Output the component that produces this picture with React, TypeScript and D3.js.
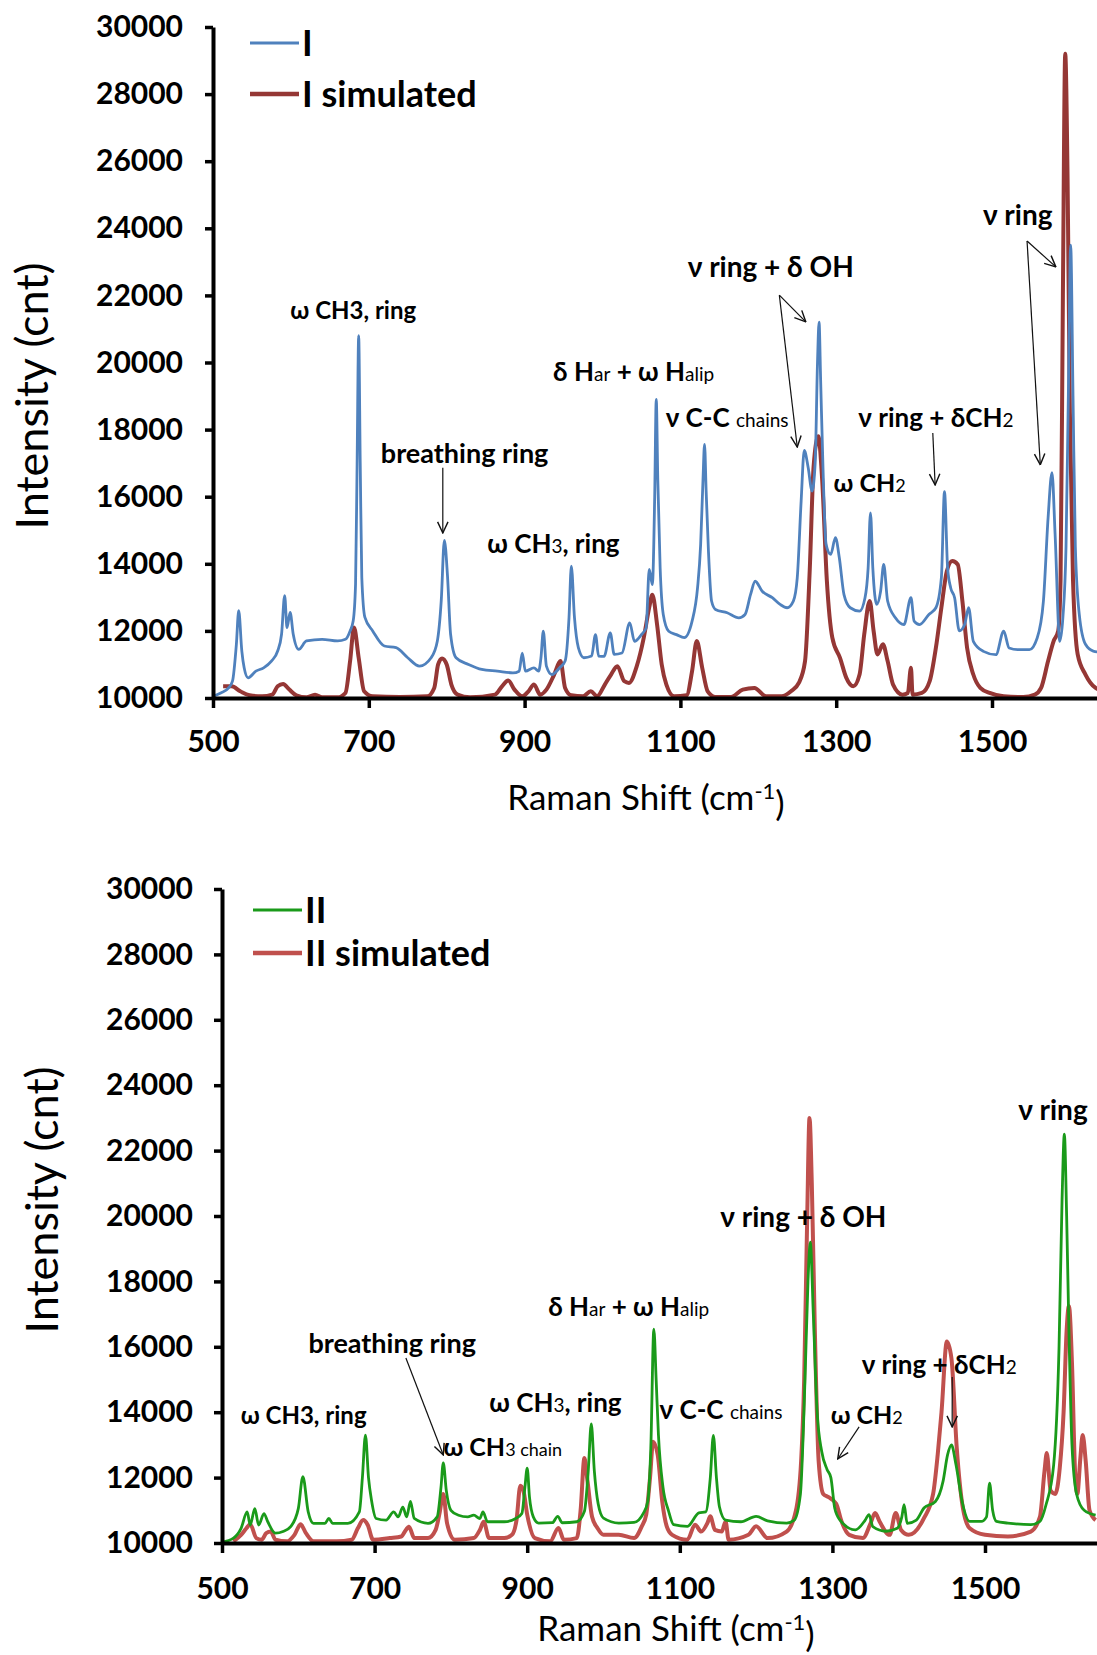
import React, { useEffect, useRef } from 'react';
import * as d3 from 'd3';

type Pt = [number, number];
type Part = [string, boolean];
interface Note {
  parts: Part[];
  at: Pt;
  size: number;
}

const xTicks = [500, 700, 900, 1100, 1300, 1500];
const yTicks = [10000, 12000, 14000, 16000, 18000, 20000, 22000, 24000, 26000, 28000, 30000];

// measured spectrum I [shift cm-1, counts]
const spectrumI: Pt[] = [
  [500, 10050], [510, 10150], [520, 10300], [525, 10500], [530, 11600], [533, 12600], [537, 11400],
  [540, 10900], [545, 10600], [555, 10800], [565, 10900], [575, 11100], [583, 11400], [588, 11900],
  [592, 13050], [595, 12100], [599, 12550], [603, 11900], [610, 11450], [620, 11700], [640, 11750],
  [660, 11700], [670, 11750], [676, 12000], [680, 12300], [683, 13400], [685, 17000], [687, 20800],
  [689, 17000], [691, 13600], [695, 12400], [705, 12000], [720, 11550], [735, 11500], [750, 11200],
  [765, 10950], [780, 11200], [788, 11700], [793, 12900], [797, 14700], [801, 13650], [805, 11900],
  [812, 11200], [828, 11000], [845, 10850], [865, 10800], [885, 10750], [893, 10800], [897, 11340],
  [901, 10800], [912, 10900], [918, 10800], [921, 11200], [924, 11990], [928, 10950], [935, 10700],
  [945, 10900], [952, 11100], [957, 12390], [960, 13930], [964, 12400], [969, 11500], [976, 11200],
  [986, 11250], [991, 11890], [995, 11250], [1002, 11240], [1010, 11940], [1015, 11300], [1025, 11340],
  [1035, 12240], [1041, 11690], [1050, 11890], [1056, 12090], [1060, 13830], [1064, 13380], [1067, 16000],
  [1069, 18900], [1071, 16500], [1074, 13880], [1078, 12490], [1085, 11990], [1095, 11890], [1105, 11800],
  [1115, 12290], [1122, 13280], [1126, 14580], [1129, 16500], [1131, 17560], [1133, 16200], [1136, 14380],
  [1140, 12890], [1145, 12640], [1160, 12540], [1175, 12390], [1183, 12490], [1190, 13080], [1196, 13480],
  [1205, 13180], [1218, 12990], [1228, 12790], [1237, 12690], [1245, 12890], [1250, 13580], [1255, 15870],
  [1259, 17380], [1264, 16870], [1269, 16170], [1273, 17000], [1276, 20000], [1278, 21200], [1280, 19500],
  [1283, 16900], [1287, 14580], [1293, 14280], [1299, 14780], [1304, 14180], [1310, 13080], [1318, 12690],
  [1330, 12590], [1337, 12990], [1341, 13880], [1344, 15520], [1347, 13880], [1352, 12790], [1357, 13180],
  [1361, 13980], [1366, 12890], [1376, 12390], [1387, 12190], [1396, 12990], [1400, 12290], [1407, 12190],
  [1419, 12490], [1428, 12690], [1435, 13580], [1439, 16150], [1443, 13880], [1447, 13280], [1452, 12990],
  [1458, 12000], [1465, 12200], [1470, 12690], [1476, 11690], [1489, 11390], [1505, 11290], [1515, 11990],
  [1522, 11490], [1533, 11440], [1548, 11440], [1558, 11790], [1566, 12890], [1572, 15370], [1577, 16720],
  [1581, 14880], [1587, 11690], [1591, 12400], [1595, 14500], [1598, 19000], [1601, 23500], [1604, 19000],
  [1607, 14500], [1612, 12500], [1620, 11600], [1630, 11400], [1645, 11350],
];

// simulated spectrum I
const simulatedI: Pt[] = [
  [513, 10350], [524, 10350], [535, 10200], [547, 10080], [563, 10050], [576, 10100], [583, 10350],
  [590, 10420], [598, 10250], [607, 10080], [620, 10020], [631, 10100], [640, 10020], [660, 10020],
  [670, 10150], [676, 11100], [681, 12100], [687, 11200], [694, 10200], [705, 10050], [740, 10030],
  [775, 10050], [784, 10300], [789, 11000], [794, 11180], [800, 11000], [806, 10400], [814, 10100],
  [830, 10020], [862, 10100], [871, 10350], [879, 10520], [887, 10250], [897, 10050], [905, 10200],
  [912, 10400], [920, 10100], [928, 10250], [938, 10700], [946, 11100], [952, 10300], [960, 10080],
  [975, 10050], [985, 10200], [993, 10050], [1003, 10400], [1011, 10700], [1019, 10950], [1028, 10500],
  [1034, 10450], [1044, 10950], [1053, 11800], [1060, 12700], [1064, 13080], [1070, 12200], [1076, 11000],
  [1082, 10400], [1092, 10050], [1108, 10080], [1115, 10800], [1121, 11700], [1128, 10900], [1135, 10200],
  [1145, 10030], [1165, 10030], [1180, 10250], [1195, 10300], [1210, 10050], [1230, 10050], [1242, 10200],
  [1252, 10450], [1260, 11100], [1266, 13800], [1271, 16900], [1277, 17800], [1282, 16500], [1288, 13500],
  [1295, 11800], [1305, 11190], [1313, 10600], [1322, 10350], [1330, 10700], [1336, 11900], [1343, 12890],
  [1348, 12000], [1353, 11300], [1360, 11600], [1366, 11100], [1373, 10400], [1385, 10100], [1392, 10150],
  [1396, 10900], [1398, 10100], [1410, 10150], [1420, 10500], [1428, 11500], [1435, 12690], [1442, 13780],
  [1449, 14080], [1456, 13980], [1462, 12890], [1468, 11500], [1476, 10700], [1485, 10300], [1497, 10150],
  [1515, 10050], [1540, 10030], [1555, 10100], [1563, 10300], [1572, 11100], [1579, 11690], [1585, 12000],
  [1588, 13500], [1591, 22000], [1594, 29200], [1597, 25500], [1600, 18500], [1604, 13500], [1610, 11300],
  [1620, 10700], [1633, 10300], [1645, 10200],
];

// measured spectrum II
const spectrumII: Pt[] = [
  [500, 10030], [515, 10150], [525, 10450], [533, 10950], [537, 10550], [543, 11050], [548, 10550],
  [555, 10900], [560, 10650], [570, 10300], [580, 10350], [590, 10500], [600, 11050], [606, 12030],
  [613, 10950], [620, 10600], [635, 10600], [640, 10750], [645, 10600], [665, 10600], [680, 10950],
  [684, 12000], [688, 13300], [692, 12000], [696, 11300], [702, 10750], [715, 10700], [725, 10950],
  [731, 10800], [737, 11100], [742, 10800], [747, 11270], [752, 10750], [770, 10600], [782, 10800],
  [787, 11700], [790, 12450], [794, 11600], [800, 11000], [810, 10850], [822, 10800], [830, 10850],
  [838, 10750], [842, 10950], [848, 10650], [870, 10650], [885, 10750], [893, 10900], [897, 11700],
  [900, 12290], [903, 11400], [908, 10800], [915, 10610], [933, 10620], [940, 10815], [946, 10620],
  [965, 10650], [975, 10970], [980, 12200], [984, 13640], [988, 12200], [993, 11200], [1000, 10760],
  [1020, 10610], [1040, 10630], [1052, 10900], [1058, 11270], [1062, 12900], [1066, 16540], [1069, 15000],
  [1072, 13310], [1078, 11700], [1085, 11000], [1092, 10560], [1110, 10510], [1125, 10920], [1134, 10950],
  [1140, 12000], [1144, 13290], [1148, 12000], [1152, 11100], [1160, 10700], [1180, 10650], [1200, 10815],
  [1215, 10680], [1240, 10610], [1250, 10700], [1258, 11480], [1264, 14940], [1268, 18000], [1271, 19200],
  [1275, 17000], [1280, 14000], [1286, 12800], [1293, 12250], [1298, 12000], [1303, 11070], [1310, 10700],
  [1330, 10400], [1343, 10700], [1348, 10870], [1353, 10500], [1370, 10360], [1385, 10450], [1391, 10800],
  [1394, 11170], [1398, 10600], [1410, 10700], [1420, 11070], [1435, 11270], [1445, 11885], [1451, 12700],
  [1456, 13000], [1462, 12390], [1470, 11270], [1480, 10660], [1495, 10660], [1502, 10800], [1506, 11830],
  [1510, 11000], [1515, 10660], [1530, 10610], [1560, 10560], [1572, 10660], [1580, 11170], [1590, 12390],
  [1597, 15960], [1601, 20500], [1604, 22500], [1607, 20000], [1610, 16500], [1614, 13000], [1620, 11500],
  [1630, 11000], [1645, 10850],
];

// simulated spectrum II
const simulatedII: Pt[] = [
  [515, 10050], [525, 10250], [532, 10450], [537, 10570], [545, 10150], [552, 10100], [558, 10300],
  [564, 10350], [570, 10100], [585, 10050], [595, 10250], [603, 10570], [610, 10300], [620, 10050],
  [650, 10050], [670, 10100], [678, 10450], [685, 10700], [691, 10550], [698, 10100], [720, 10150],
  [735, 10200], [741, 10400], [745, 10500], [752, 10150], [770, 10150], [780, 10400], [785, 10900],
  [790, 11500], [795, 10600], [805, 10100], [830, 10150], [838, 10400], [843, 10650], [850, 10150],
  [870, 10150], [880, 10250], [886, 10700], [891, 11750], [895, 11600], [900, 10870], [910, 10150],
  [930, 10050], [941, 10460], [948, 10100], [965, 10150], [970, 11000], [975, 12600], [979, 11900],
  [985, 10800], [992, 10460], [1000, 10250], [1020, 10250], [1040, 10150], [1050, 10500], [1056, 10870],
  [1061, 12000], [1065, 13100], [1071, 12700], [1077, 11270], [1083, 10500], [1090, 10250], [1110, 10100],
  [1120, 10560], [1128, 10350], [1136, 10600], [1140, 10815], [1146, 10400], [1155, 10350], [1160, 10660],
  [1164, 10100], [1190, 10250], [1200, 10510], [1215, 10150], [1240, 10350], [1252, 10970], [1259, 12500],
  [1263, 15000], [1267, 20000], [1270, 23000], [1273, 21000], [1277, 16500], [1282, 12500], [1288, 11500],
  [1295, 11400], [1305, 11200], [1312, 10660], [1322, 10250], [1340, 10150], [1350, 10600], [1356, 10920],
  [1362, 10650], [1375, 10250], [1383, 10920], [1390, 10400], [1400, 10250], [1420, 10760], [1432, 11500],
  [1438, 12700], [1443, 14000], [1450, 16160], [1456, 15650], [1463, 12900], [1471, 11070], [1480, 10450],
  [1500, 10250], [1530, 10200], [1560, 10350], [1572, 10800], [1578, 12200], [1581, 12750], [1586, 11600],
  [1592, 11500], [1598, 12300], [1603, 14000], [1607, 16500], [1610, 17250], [1614, 15500], [1618, 12200],
  [1621, 11500], [1625, 12600], [1628, 13300], [1632, 12500], [1637, 11000], [1645, 10700],
];

const notesI: Note[] = [
  { parts: [['ω CH3, ring', false]], at: [680, 21540], size: 24 },
  { parts: [['breathing ring', false]], at: [823, 17300], size: 27 },
  { parts: [['ω CH', false], ['3', true], [', ring', false]], at: [937, 14590], size: 26 },
  { parts: [['δ H', false], ['ar', true], [' + ω H', false], ['alip', true]], at: [1040, 19720], size: 26 },
  { parts: [['ν C-C ', false], ['chains', true]], at: [1160, 18350], size: 26 },
  { parts: [['ν ring + δ OH', false]], at: [1216, 22850], size: 28 },
  { parts: [['ν ring', false]], at: [1533, 24400], size: 28 },
  { parts: [['ω CH', false], ['2', true]], at: [1343, 16410], size: 25 },
  { parts: [['ν ring + δCH', false], ['2', true]], at: [1428, 18350], size: 26 },
];
const arrowsI: [Pt, Pt][] = [
  [[795, 16860], [795, 14920]],
  [[1227, 22010], [1261, 21210]],
  [[1227, 22010], [1250, 17480]],
  [[1545, 23620], [1582, 22850]],
  [[1545, 23620], [1562, 16950]],
  [[1424, 17900], [1427, 16350]],
];

const notesII: Note[] = [
  { parts: [['ω CH3, ring', false]], at: [607, 13910], size: 24 },
  { parts: [['breathing ring', false]], at: [723, 16120], size: 27 },
  { parts: [['ω CH', false], ['3 chain', true]], at: [868, 12940], size: 25 },
  { parts: [['ω CH', false], ['3', true], [', ring', false]], at: [937, 14280], size: 26 },
  { parts: [['δ H', false], ['ar', true], [' + ω H', false], ['alip', true]], at: [1033, 17220], size: 26 },
  { parts: [['ν C-C ', false], ['chains', true]], at: [1154, 14070], size: 26 },
  { parts: [['ν ring + δ OH', false]], at: [1262, 19970], size: 28 },
  { parts: [['ν ring', false]], at: [1589, 23240], size: 28 },
  { parts: [['ω CH', false], ['2', true]], at: [1345, 13910], size: 25 },
  { parts: [['ν ring + δCH', false], ['2', true]], at: [1440, 15440], size: 26 },
];
const arrowsII: [Pt, Pt][] = [
  [[741, 15660], [790, 12690]],
  [[1335, 13550], [1307, 12570]],
  [[1457, 15080], [1457, 13550]],
];

const FONT = "Lato, 'Noto Sans', 'DejaVu Sans', sans-serif";

interface Panel {
  exp: Pt[];
  sim: Pt[];
  expName: string;
  simName: string;
  expColor: string;
  simColor: string;
  notes: Note[];
  arrows: [Pt, Pt][];
  left: number;
  pxPer1000: number;
  top: number;
  bottom: number;
  legendX: number;
  legendY: [number, number];
  yTitle: Pt;
  xTitle: Pt;
  xLabelPad: number;
  yLabelPad: number;
}

const panels: Panel[] = [
  {
    exp: spectrumI, sim: simulatedI, expName: 'I', simName: 'I simulated',
    expColor: '#4f81bd', simColor: '#953735', notes: notesI, arrows: arrowsI,
    left: 213, pxPer1000: 779, top: 27, bottom: 698,
    legendX: 250, legendY: [43, 94], yTitle: [32, 396], xTitle: [646, 797],
    xLabelPad: 23, yLabelPad: 22,
  },
  {
    exp: spectrumII, sim: simulatedII, expName: 'II', simName: 'II simulated',
    expColor: '#1a9a1a', simColor: '#c0504d', notes: notesII, arrows: arrowsII,
    left: 222, pxPer1000: 763, top: 889, bottom: 1543,
    legendX: 253, legendY: [910, 953], yTitle: [42, 1200], xTitle: [676, 1628],
    xLabelPad: 25, yLabelPad: 21,
  },
];

export default function App() {
  const ref = useRef<SVGSVGElement>(null);

  useEffect(() => {
    if (!ref.current) return;
    const svg = d3.select(ref.current);
    svg.selectAll('*').remove();

    svg
      .append('defs')
      .append('marker')
      .attr('id', 'head')
      .attr('viewBox', '0 0 10 10')
      .attr('refX', 9.5)
      .attr('refY', 5)
      .attr('markerWidth', 13)
      .attr('markerHeight', 13)
      .attr('markerUnits', 'userSpaceOnUse')
      .attr('orient', 'auto')
      .append('path')
      .attr('d', 'M1,1 L9.5,5 L1,9')
      .attr('fill', 'none')
      .attr('stroke', '#111')
      .attr('stroke-width', 1.1);

    panels.forEach((p) => {
      const x = d3
        .scaleLinear()
        .domain([500, 1700])
        .range([p.left, p.left + 1.2 * p.pxPer1000]);
      const y = d3.scaleLinear().domain([10000, 30000]).range([p.bottom, p.top]);
      const g = svg.append('g');

      const line = d3
        .line<Pt>()
        .x((d) => x(d[0]))
        .y((d) => y(d[1]))
        .curve(d3.curveMonotoneX);

      g.append('path')
        .attr('d', line(p.sim))
        .attr('fill', 'none')
        .attr('stroke', p.simColor)
        .attr('stroke-width', 4)
        .attr('stroke-linejoin', 'round');
      g.append('path')
        .attr('d', line(p.exp))
        .attr('fill', 'none')
        .attr('stroke', p.expColor)
        .attr('stroke-width', 2.8)
        .attr('stroke-linejoin', 'round');

      // axes
      const yAxis = g
        .append('g')
        .attr('transform', `translate(${p.left},0)`)
        .call(d3.axisLeft(y).tickValues(yTicks).tickSize(8).tickSizeOuter(0).tickPadding(p.yLabelPad).tickFormat(d3.format('d')));
      const xAxis = g
        .append('g')
        .attr('transform', `translate(0,${p.bottom})`)
        .call(d3.axisBottom(x).tickValues(xTicks).tickSize(10).tickSizeOuter(0).tickPadding(p.xLabelPad).tickFormat(d3.format('d')));
      [yAxis, xAxis].forEach((a) => {
        a.select('.domain').attr('stroke', '#000').attr('stroke-width', 4);
        a.selectAll('.tick line').attr('stroke', '#000').attr('stroke-width', 3.5);
        a.selectAll('.tick text')
          .attr('fill', '#000')
          .style('font-family', FONT)
          .style('font-size', '30px')
          .style('font-weight', 'bold');
      });

      // legend
      [
        [p.expName, p.expColor, 3],
        [p.simName, p.simColor, 4.5],
      ].forEach(([name, color, w], i) => {
        const ly = p.legendY[i];
        g.append('line')
          .attr('x1', p.legendX)
          .attr('x2', p.legendX + 49)
          .attr('y1', ly)
          .attr('y2', ly)
          .attr('stroke', color as string)
          .attr('stroke-width', w as number);
        g.append('text')
          .attr('x', p.legendX + 52)
          .attr('y', ly)
          .attr('dy', '0.36em')
          .style('font-family', FONT)
          .style('font-size', '36px')
          .style('font-weight', 'bold')
          .text(name as string);
      });

      // axis titles
      g.append('text')
        .attr('transform', `translate(${p.yTitle[0]},${p.yTitle[1]}) rotate(-90)`)
        .attr('text-anchor', 'middle')
        .attr('dy', '0.36em')
        .style('font-family', FONT)
        .style('font-size', '45px')
        .text('Intensity (cnt)');

      const xt = g
        .append('text')
        .attr('x', p.xTitle[0])
        .attr('y', p.xTitle[1])
        .attr('dy', '0.36em')
        .attr('text-anchor', 'middle')
        .style('font-family', FONT)
        .style('font-size', '35px');
      xt.append('tspan').text('Raman  Shift (cm');
      xt.append('tspan').attr('dy', '-0.5em').style('font-size', '22px').text('-1');
      xt.append('tspan').attr('dy', '0.5em').text(')');

      // annotations
      p.notes.forEach((n) => {
        const t = g
          .append('text')
          .attr('x', x(n.at[0]))
          .attr('y', y(n.at[1]))
          .attr('dy', '0.36em')
          .attr('text-anchor', 'middle')
          .style('font-family', FONT)
          .style('font-size', `${n.size}px`)
          .style('font-weight', 'bold');
        n.parts.forEach(([s, small]) => {
          t.append('tspan')
            .style('font-size', small ? `${Math.round(n.size * 0.72)}px` : null)
            .style('font-weight', small ? 'normal' : null)
            .text(s);
        });
      });

      p.arrows.forEach(([a, b]) => {
        g.append('line')
          .attr('x1', x(a[0]))
          .attr('y1', y(a[1]))
          .attr('x2', x(b[0]))
          .attr('y2', y(b[1]))
          .attr('stroke', '#111')
          .attr('stroke-width', 1.2)
          .attr('marker-end', 'url(#head)');
      });
    });
  }, []);

  return (
    <svg
      ref={ref}
      width={1097}
      height={1655}
      style={{ position: 'absolute', left: 0, top: 0, background: '#fff' }}
    />
  );
}
